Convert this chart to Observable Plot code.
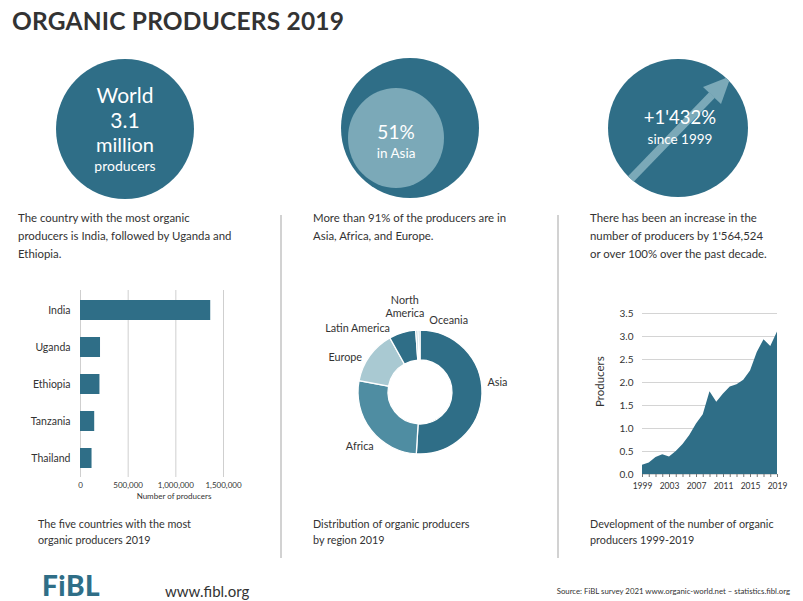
<!DOCTYPE html>
<html><head><meta charset="utf-8">
<script src="https://cdn.jsdelivr.net/npm/d3@7"></script>
<script src="https://cdn.jsdelivr.net/npm/@observablehq/plot@0.6"></script>
<style>
html,body{margin:0;padding:0;background:#fff;}
#page{position:relative;width:803px;height:601px;overflow:hidden;font-family:Lato,"Open Sans",sans-serif;color:#333;}
.abs{position:absolute;}
.title{left:12px;top:8px;font-size:24.5px;line-height:25px;font-weight:700;color:#333;letter-spacing:0.2px;white-space:nowrap;}
.desc{top:209px;font-size:11.4px;line-height:18px;color:#333;white-space:nowrap;}
.cap{top:516px;font-size:10.8px;line-height:16px;color:#333;white-space:nowrap;}
.divider{width:1.5px;background:#d2d2d2;top:215px;height:343px;}
.fibl{left:42px;top:571px;font-size:28px;line-height:28px;font-weight:900;color:#2f6e87;letter-spacing:0.5px;}
.www{left:165px;top:584px;font-size:15px;line-height:15px;color:#333;}
.src{right:13px;top:586px;font-size:7.8px;line-height:10px;color:#333;white-space:nowrap;}
</style></head>
<body><div id="page">
<div class="abs title">ORGANIC PRODUCERS 2019</div>
<svg class="abs" style="left:0;top:0" width="803" height="210" font-family="Lato, sans-serif">
  <defs><clipPath id="c3"><ellipse cx="678" cy="128" rx="70" ry="69"/></clipPath></defs>
  <ellipse cx="125" cy="129" rx="69" ry="70" fill="#2f6e87"/>
  <text x="125" y="94" fill="#fff" font-size="21" text-anchor="middle" dominant-baseline="central">World</text>
  <text x="125" y="119" fill="#fff" font-size="21" text-anchor="middle" dominant-baseline="central">3.1</text>
  <text x="125" y="144" fill="#fff" font-size="20" text-anchor="middle" dominant-baseline="central">million</text>
  <text x="125" y="165" fill="#fff" font-size="14" text-anchor="middle" dominant-baseline="central">producers</text>
  <ellipse cx="410" cy="128" rx="69" ry="70" fill="#2f6e87"/>
  <ellipse cx="396" cy="138" rx="48" ry="50" fill="#7ba9b8"/>
  <text x="396" y="131" fill="#fff" font-size="19" text-anchor="middle" dominant-baseline="central">51%</text>
  <text x="396" y="153" fill="#fff" font-size="13.5" text-anchor="middle" dominant-baseline="central">in Asia</text>
  <ellipse cx="678" cy="128" rx="70" ry="69" fill="#2f6e87"/>
  <g clip-path="url(#c3)" fill="#7ba9b8">
    <line x1="625" y1="185" x2="712" y2="95" stroke="#7ba9b8" stroke-width="8"/>
    <polygon points="731,76 721,104 703,87"/>
  </g>
  <text x="680" y="117" fill="#fff" font-size="18.5" text-anchor="middle" dominant-baseline="central">+1'432%</text>
  <text x="680" y="139" fill="#fff" font-size="13.5" text-anchor="middle" dominant-baseline="central">since 1999</text>
</svg>
<div class="abs desc" style="left:18px">The country with the most organic<br>producers is India, followed by Uganda and<br>Ethiopia.</div>
<div class="abs desc" style="left:313px">More than 91% of the producers are in<br>Asia, Africa, and Europe.</div>
<div class="abs desc" style="left:590px">There has been an increase in the<br>number of producers by 1'564,524<br>or over 100% over the past decade.</div>
<div class="abs divider" style="left:280px"></div>
<div class="abs divider" style="left:557px"></div>
<div class="abs" id="bar" style="left:0;top:285px"></div>
<div class="abs" id="donut" style="left:290px;top:285px"></div>
<div class="abs" id="area" style="left:575px;top:300px"></div>
<div class="abs cap" style="left:38px">The five countries with the most<br>organic producers 2019</div>
<div class="abs cap" style="left:313px">Distribution of organic producers<br>by region 2019</div>
<div class="abs cap" style="left:590px">Development of the number of organic<br>producers 1999-2019</div>
<div class="abs fibl">FiBL</div>
<div class="abs www">www.fibl.org</div>
<div class="abs src">Source: FiBL survey 2021 www.organic-world.net – statistics.fibl.org</div>
</div>
<script>
// ---- data ----
const countries = ["India", "Uganda", "Ethiopia", "Tanzania", "Thailand"];
const countryProducers = [1366000, 210000, 204000, 149000, 121000];
const barTicks = [0, 500000, 1000000, 1500000];

const regions = ["Asia", "Africa", "Europe", "Latin America", "North America", "Oceania"];
const regionShares = [51, 27, 14, 7, 0.6, 0.5];

const years = [1999, 2000, 2001, 2002, 2003, 2004, 2005, 2006, 2007, 2008, 2009,
               2010, 2011, 2012, 2013, 2014, 2015, 2016, 2017, 2018, 2019];
const producersMillions = [0.20, 0.25, 0.37, 0.43, 0.38, 0.50, 0.65, 0.85, 1.10, 1.30, 1.80,
                           1.57, 1.75, 1.90, 1.95, 2.05, 2.25, 2.65, 2.93, 2.78, 3.10];
const yearLabels = [1999, 2003, 2007, 2011, 2015, 2019];
const producerTicks = [0, 0.5, 1, 1.5, 2, 2.5, 3, 3.5];

// ---- styles ----
const dark = "#2f6e87", mid = "#4f8da2", light = "#7ba9b8", pale = "#a9c9d2";
const font = "Lato, 'Open Sans', sans-serif";
const regionFill = {"Asia": dark, "Africa": mid, "Europe": pale, "Latin America": dark, "North America": pale, "Oceania": pale};
const labelTweak = {
  "Asia": {anchor: "start", dx: -5, dy: -13},
  "Africa": {anchor: "middle", dx: -4, dy: 9},
  "Europe": {anchor: "end", dx: 0, dy: 7},
  "Latin America": {anchor: "end", dx: -10, dy: 5},
  "North America": {anchor: "middle", dx: -12, dy: -14, text: "North\nAmerica"},
  "Oceania": {anchor: "start", dx: 10, dy: 0}
};

// ---- bar chart ----
const barData = countries.map((c, i) => ({country: c, value: countryProducers[i]}));
const bar = Plot.plot({
  width: 270, height: 220, marginLeft: 80, marginRight: 47, marginTop: 5, marginBottom: 28,
  style: {fontFamily: font, color: "#333", background: "transparent", overflow: "visible"},
  x: {domain: [0, 1500000], label: null},
  y: {domain: countries, paddingInner: 0.47, paddingOuter: 0.23, label: null},
  marks: [
    Plot.gridX(barTicks, {stroke: "#cfcfcf", strokeOpacity: 1}),
    Plot.barX(barData, {x: "value", y: "country", fill: dark}),
    Plot.axisY({tickSize: 0, tickPadding: 10, fontSize: 10.5, label: null}),
    Plot.axisX(barTicks, {tickSize: 0, tickPadding: 5, tickFormat: d3.format(","), fontSize: 8, label: null}),
    Plot.text(["Number of producers"], {frameAnchor: "bottom", dx: 22, dy: 21, fontSize: 8, fill: "#333"})
  ]
});
document.getElementById("bar").appendChild(bar);

// ---- donut chart ----
const regionData = regions.map((r, i) => ({region: r, share: regionShares[i]}));
const pie = d3.pie().sort(null).value(d => d.share)(regionData);
const R_in = 32, R_out = 62, R_lab = 72;
const labels = pie.map(a => {
  const m = (a.startAngle + a.endAngle) / 2;
  const t = labelTweak[a.data.region];
  return {label: t.text || a.data.region, anchor: t.anchor,
          x: R_lab * Math.sin(m) + t.dx, y: R_lab * Math.cos(m) - t.dy};
});
const arcMark = (index, scales) => {
  const cx = scales.x(0), cy = scales.y(0), k = scales.x(1) - scales.x(0);
  const arc = d3.arc().innerRadius(R_in * k).outerRadius(R_out * k);
  const g = d3.create("svg:g").attr("transform", `translate(${cx},${cy})`);
  g.selectAll("path").data(pie).join("path")
    .attr("d", arc).attr("fill", d => regionFill[d.data.region])
    .attr("stroke", "#fff").attr("stroke-width", 1.3);
  return g.node();
};
const donut = Plot.plot({
  width: 260, height: 200, margin: 0,
  style: {fontFamily: font, color: "#333", background: "transparent", overflow: "visible"},
  x: {domain: [-130, 130], range: [0, 260], axis: null},
  y: {domain: [-93, 107], range: [200, 0], axis: null},
  marks: [
    arcMark,
    ...["start", "middle", "end"].map(anc =>
      Plot.text(labels.filter(d => d.anchor === anc), {x: "x", y: "y", text: "label", textAnchor: anc, fontSize: 10.8, fill: "#333", lineHeight: 1.15}))
  ]
});
document.getElementById("donut").appendChild(donut);

// ---- area chart ----
const areaData = years.map((y, i) => ({year: y, value: producersMillions[i]}));
const area = Plot.plot({
  width: 220, height: 195, marginLeft: 67, marginRight: 18, marginTop: 13, marginBottom: 21,
  style: {fontFamily: font, color: "#333", background: "transparent", overflow: "visible"},
  x: {domain: [1999, 2019], label: null},
  y: {domain: [0, 3.5], label: null},
  marks: [
    Plot.gridY(producerTicks, {stroke: "#d4d4d4", strokeOpacity: 1}),
    Plot.areaY(areaData, {x: "year", y: "value", fill: dark}),
    Plot.axisY(producerTicks, {tickSize: 0, tickPadding: 9, tickFormat: d3.format(".1f"), fontSize: 10, label: null}),
    Plot.axisX(years, {tickSize: 3, tickFormat: () => "", label: null, stroke: "#777"}),
    Plot.axisX(yearLabels, {tickSize: 0, tickPadding: 8, tickFormat: d => String(d), fontSize: 8.5, label: null}),
    Plot.text(["Producers"], {frameAnchor: "left", rotate: -90, dx: -42, dy: 13, fontSize: 11.5, fill: "#333"})
  ]
});
document.getElementById("area").appendChild(area);
</script>
</body></html>
